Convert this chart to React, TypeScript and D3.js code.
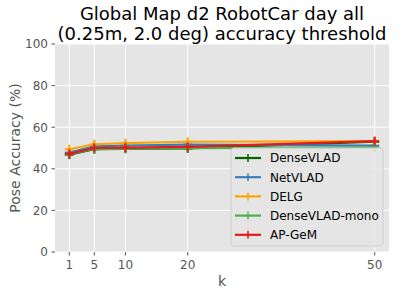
import { line, scaleLinear } from 'd3'

const kValues = [1, 5, 10, 20, 50]
const denseVlad = [46.8, 49.4, 49.6, 49.8, 53.0]
const netVlad = [47.8, 50.8, 51.2, 51.6, 51.1]
const delg = [49.4, 51.8, 52.3, 53.0, 53.3]
const denseVladMono = [47.0, 49.5, 49.7, 49.9, 50.2]
const apGem = [47.2, 50.0, 50.2, 50.5, 53.3]

const seriesNames = ['DenseVLAD', 'NetVLAD', 'DELG', 'DenseVLAD-mono', 'AP-GeM']
const seriesValues = [denseVlad, netVlad, delg, denseVladMono, apGem]
const seriesColors = ['#006400', '#377eb8', '#ffa500', '#4daf4a', '#e41a1c']

const xTickValues = [1, 5, 10, 20, 50]
const yTickValues = [0, 20, 40, 60, 80, 100]

const width = 400
const height = 288
const plot = { left: 55, right: 389, top: 44, bottom: 252 }
const font = 'DejaVu Sans, sans-serif'

const App = () => {
  const x = scaleLinear().domain([1 - 2.3, 50 + 2.3]).range([plot.left, plot.right])
  const y = scaleLinear().domain([0, 100]).range([plot.bottom, plot.top])
  const cx = (plot.left + plot.right) / 2

  const pathFor = line<number>()
    .x((_, i) => x(kValues[i]))
    .y((d) => y(d))

  const legend = { x: 231, y: 148, w: 152, h: 98, row: 19.2 }

  return (
    <svg width={width} height={height} style={{ position: 'absolute', left: 0, top: 0 }} fontFamily={font}>
      <rect width={width} height={height} fill="white" />
      <rect x={plot.left} y={plot.top} width={plot.right - plot.left} height={plot.bottom - plot.top} fill="#e5e5e5" />

      {yTickValues.map((v) => (
        <g key={`y${v}`}>
          <line x1={plot.left} x2={plot.right} y1={y(v)} y2={y(v)} stroke="white" strokeWidth={1} />
          <line x1={plot.left - 3.5} x2={plot.left} y1={y(v)} y2={y(v)} stroke="#555" strokeWidth={1} />
          <text x={plot.left - 7} y={y(v)} dy="0.36em" textAnchor="end" fontSize={12} fill="#555">
            {v}
          </text>
        </g>
      ))}
      {xTickValues.map((v) => (
        <g key={`x${v}`}>
          <line x1={x(v)} x2={x(v)} y1={plot.top} y2={plot.bottom} stroke="white" strokeWidth={1} />
          <line x1={x(v)} x2={x(v)} y1={plot.bottom} y2={plot.bottom + 3.5} stroke="#555" strokeWidth={1} />
          <text x={x(v)} y={plot.bottom + 16.5} textAnchor="middle" fontSize={12} fill="#555">
            {v}
          </text>
        </g>
      ))}

      {seriesValues.map((vals, si) => (
        <g key={seriesNames[si]}>
          <path d={pathFor(vals) ?? ''} fill="none" stroke={seriesColors[si]} strokeWidth={2.2} />
          {vals.map((v, i) => (
            <g key={i} stroke={seriesColors[si]} strokeWidth={2}>
              <line x1={x(kValues[i]) - 4.5} x2={x(kValues[i]) + 4.5} y1={y(v)} y2={y(v)} />
              <line x1={x(kValues[i])} x2={x(kValues[i])} y1={y(v) - 4.5} y2={y(v) + 4.5} />
            </g>
          ))}
        </g>
      ))}

      <rect
        x={legend.x}
        y={legend.y}
        width={legend.w}
        height={legend.h}
        rx={3}
        fill="#e5e5e5"
        fillOpacity={0.85}
        stroke="#d0d0d0"
        strokeWidth={1}
      />
      {seriesNames.map((name, i) => {
        const ly = legend.y + 10 + i * legend.row
        return (
          <g key={name}>
            <line x1={235} x2={261} y1={ly} y2={ly} stroke={seriesColors[i]} strokeWidth={2.2} />
            <line x1={248} x2={248} y1={ly - 4} y2={ly + 4} stroke={seriesColors[i]} strokeWidth={1.5} />
            <text x={270} y={ly} dy="0.36em" fontSize={12} fill="black">
              {name}
            </text>
          </g>
        )
      })}

      <text x={cx} y={20} textAnchor="middle" fontSize={18} fill="black">
        Global Map d2 RobotCar day all
      </text>
      <text x={cx} y={40} textAnchor="middle" fontSize={18} fill="black">
        (0.25m, 2.0 deg) accuracy threshold
      </text>
      <text x={cx} y={286} textAnchor="middle" fontSize={14} fill="#555">
        k
      </text>
      <text
        transform={`translate(20, ${(plot.top + plot.bottom) / 2}) rotate(-90)`}
        textAnchor="middle"
        fontSize={14}
        fill="#555"
      >
        Pose Accuracy (%)
      </text>
    </svg>
  )
}

export default App
